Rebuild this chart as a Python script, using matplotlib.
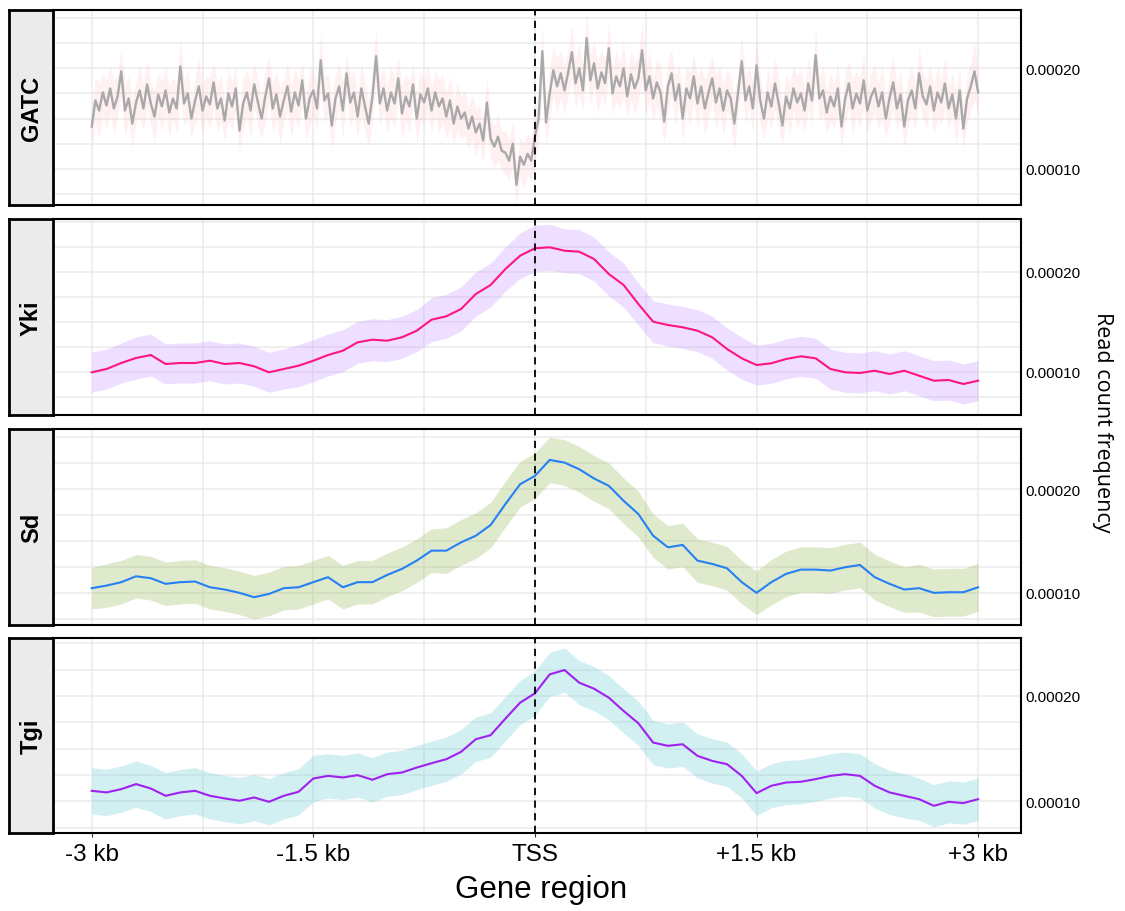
import numpy as np
import matplotlib
matplotlib.use('Agg')
import matplotlib.pyplot as plt
from matplotlib.ticker import FormatStrFormatter

plt.rcParams['font.family'] = ['Liberation Sans', 'DejaVu Sans']

# positions relative to TSS, in kb
x_gatc = np.round(np.arange(-3, 3.0001, 0.025), 3)
x_prot = np.round(np.arange(-3, 3.0001, 0.1), 2)

# read count frequency, in units of 1e-6
gatc_mean = [
    142, 168, 158, 176, 163, 180, 160, 172, 197, 158, 170, 145, 166, 178, 160, 184, 165, 152, 174, 162,
    178, 156, 170, 160, 202, 165, 175, 150, 168, 182, 158, 172, 164, 186, 160, 170, 148, 175, 162, 180,
    138, 165, 176, 158, 184, 166, 150, 172, 190, 160, 174, 152, 168, 182, 157, 176, 163, 188, 150, 170,
    178, 160, 208, 168, 175, 143, 170, 182, 158, 195, 166, 176, 152, 180, 162, 145, 172, 212, 165, 180,
    158, 176, 165, 190, 155, 172, 162, 184, 150, 174, 166, 180, 158, 176, 162, 170, 152, 168, 145, 162,
    150, 156, 140, 152, 136, 145, 128, 166, 130, 122, 132, 118, 116, 108, 125, 84, 112, 104, 115, 108,
    132, 150, 217, 146, 175, 198, 182, 195, 178, 196, 216, 185, 200, 178, 230, 188, 205, 180, 196, 185,
    220, 175, 192, 182, 200, 172, 194, 180, 190, 218, 178, 192, 170, 186, 176, 147, 182, 195, 168, 184,
    150, 180, 170, 192, 165, 182, 160, 176, 190, 166, 180, 158, 178, 170, 145, 176, 207, 168, 182, 160,
    203, 168, 150, 176, 162, 185, 165, 143, 172, 160, 180, 166, 175, 158, 185, 168, 213, 170, 178, 156,
    172, 162, 180, 142, 170, 185, 160, 175, 165, 188, 158, 172, 180, 162, 176, 150, 170, 186, 160, 174,
    142, 168, 178, 160, 195, 172, 164, 182, 158, 176, 166, 185, 160, 174, 150, 178, 140, 170, 182, 197, 176,
]
gatc_sd = [
    24, 22, 27, 20, 25, 23, 28, 21, 24, 26, 22, 25, 20, 27, 23, 24, 21, 26, 22, 25,
    23, 26, 21, 24, 28, 22, 25, 20, 23, 27, 24, 21, 26, 22, 25, 23, 20, 27, 24, 22,
    21, 25, 23, 27, 22, 24, 20, 26, 23, 25, 22, 28, 21, 24, 26, 23, 25, 20, 22, 27,
    25, 22, 28, 23, 21, 26, 24, 22, 27, 20, 25, 23, 21, 26, 24, 22, 25, 28, 23, 21,
    22, 26, 24, 21, 27, 23, 25, 20, 24, 26, 22, 25, 23, 21, 27, 24, 22, 26, 20, 23,
    21, 23, 20, 22, 24, 19, 22, 25, 20, 21, 23, 19, 22, 20, 24, 21, 19, 22, 20, 21,
    23, 25, 27, 22, 26, 24, 28, 23, 25, 22, 27, 24, 26, 21, 28, 25, 23, 26, 22, 24,
    26, 22, 25, 23, 27, 21, 24, 26, 22, 28, 23, 25, 21, 24, 27, 22, 26, 23, 25, 21,
    24, 22, 26, 23, 25, 21, 27, 24, 22, 26, 23, 25, 20, 24, 27, 22, 26, 23, 21, 25,
    27, 23, 21, 25, 22, 26, 24, 20, 23, 25, 22, 27, 24, 21, 26, 23, 28, 22, 25, 21,
    24, 22, 26, 21, 25, 23, 27, 22, 24, 26, 21, 25, 23, 22, 27, 20, 24, 26, 22, 25,
    21, 24, 26, 22, 27, 23, 25, 21, 24, 26, 22, 25, 23, 21, 27, 24, 20, 25, 23, 28, 24,
]

yki_mean = [
    99.7, 103, 109, 114, 117, 108, 109, 109, 111.3, 108,
    109, 105.7, 99.7, 103, 106.3, 111.3, 117, 121.3, 129.7, 132.3,
    131.3, 134.7, 141.3, 152.3, 155.7, 163, 178, 187, 203, 216.3,
    223.7, 224.7, 221.3, 220.3, 213, 198, 187, 168, 150.3, 147,
    144.7, 141.3, 134.7, 123, 113.7, 107, 108.7, 113, 115.7, 113.7,
    103, 99.7, 99, 101.3, 98, 101.3, 96.3, 91.3, 92, 88,
    91.3,
]
yki_sd = [
    20, 20, 20, 21, 21, 20, 20, 20, 20, 20,
    20, 20, 20, 20, 21, 21, 21, 21, 21, 21,
    21, 21, 21, 22, 22, 22, 22, 22, 22, 23,
    23, 23, 22, 22, 22, 22, 22, 21, 21, 21,
    21, 21, 21, 21, 21, 20, 20, 20, 20, 20,
    20, 20, 20, 20, 20, 20, 20, 20, 20, 20,
    20,
]

sd_mean = [
    104.5, 107, 110.3, 116, 114.1, 108.7, 110.3, 110.9, 105.4, 103.2,
    100, 95.8, 99, 104.5, 105.4, 110.3, 115.1, 105.4, 110.3, 110.3,
    117.3, 123.1, 131.1, 140.7, 140.7, 148.7, 155.1, 165.4, 185.6, 204.8,
    212.8, 228.2, 225.6, 219.2, 210.3, 203.2, 188.8, 176, 155.1, 143.9,
    146.2, 131.1, 127.9, 123.7, 110.3, 100, 110.3, 118.3, 122.4, 122.4,
    121.5, 124.7, 126.9, 115.1, 108.7, 103.2, 104.5, 100, 100.6, 100.6,
    105.4,
]
sd_sd = [
    20, 21, 21, 21, 21, 21, 21, 21, 21, 21,
    21, 21, 21, 21, 21, 21, 21, 21, 21, 21,
    21, 21, 21, 21, 22, 22, 22, 22, 22, 22,
    22, 22, 22, 22, 22, 22, 22, 22, 21, 21,
    21, 21, 21, 21, 21, 21, 22, 22, 22, 22,
    22, 22, 22, 22, 22, 22, 23, 23, 23, 23,
    23,
]

tgi_mean = [
    110, 108.5, 111.6, 116.4, 112.2, 105.3, 108.5, 110, 105.3, 102.8,
    100.6, 103.7, 99.6, 105.3, 109.1, 121.7, 124.2, 122.7, 124.9, 120.5,
    125.8, 127.4, 132.1, 136.2, 140, 147, 159, 162.8, 178.5, 193.7,
    202.5, 220.5, 224.6, 212.6, 206.9, 198.4, 185.8, 174.1, 155.8, 152.7,
    154.2, 143.2, 138.4, 135.3, 124.2, 107.8, 114.8, 117.9, 118.6, 121.1,
    124.2, 125.8, 124.2, 114.8, 108.5, 105.3, 102.1, 95.8, 99.6, 98.4,
    102.1,
]
tgi_sd = [
    22, 22, 22, 22, 22, 22, 22, 22, 22, 22,
    22, 22, 22, 22, 22, 22, 21, 21, 21, 21,
    21, 21, 21, 21, 21, 21, 21, 21, 21, 21,
    21, 21, 21, 21, 21, 21, 21, 21, 21, 21,
    21, 21, 21, 21, 21, 21, 21, 21, 21, 21,
    21, 21, 21, 21, 21, 21, 20, 20, 20, 20,
    20,
]

facets = ['GATC', 'Yki', 'Sd', 'Tgi']
line_colors = ['#A9A9A9', '#FF1483', '#2680F5', '#A020F0']
ribbon_colors = ['#FFB6C1', '#CC99FF', '#9DBF63', '#7FD4DA']
ribbon_alpha = [0.2, 0.32, 0.32, 0.35]
ylims = [(64, 258), (57, 253), (69, 258), (70, 255)]

x_breaks = [-3, -1.5, 0, 1.5, 3]
x_labels = ['-3 kb', '-1.5 kb', 'TSS', '+1.5 kb', '+3 kb']

series = [
    (x_gatc, gatc_mean, gatc_sd),
    (x_prot, yki_mean, yki_sd),
    (x_prot, sd_mean, sd_sd),
    (x_prot, tgi_mean, tgi_sd),
]

# panel edges in pixels (top, bottom) of a 1125 x 912 canvas
panel_rows = [(11, 206), (220, 416), (430, 626), (639, 834)]
W, H = 1125, 912
left_px, right_px = 53.3, 1021
strip_left = 9.3

fig = plt.figure(figsize=(W / 100, H / 100), dpi=100)

for i, name in enumerate(facets):
    top, bot = panel_rows[i]
    rect = [left_px / W, 1 - bot / H, (right_px - left_px) / W, (bot - top) / H]
    ax = fig.add_axes(rect)
    x, m, s = series[i]
    m = np.array(m) * 1e-6
    s = np.array(s) * 1e-6
    ax.fill_between(x, m - s, m + s, color=ribbon_colors[i], alpha=ribbon_alpha[i],
                    linewidth=0, zorder=2)
    ax.plot(x, m, color=line_colors[i], lw=1.7 if i == 0 else 1.5, zorder=3)
    ax.axvline(0, color='black', ls=(0, (4, 3)), lw=1.3, zorder=4)

    ax.set_xlim(-3.26, 3.29)
    lo, hi = ylims[i]
    ax.set_ylim(lo * 1e-6, hi * 1e-6)

    # grid
    for gx in np.arange(-3, 3.01, 0.75):
        ax.axvline(gx, color='#EBEBEB', lw=1.1, zorder=0)
    for gy in range(75, 260, 25):
        ax.axhline(gy * 1e-6, color='#EBEBEB', lw=1.1, zorder=0)

    ax.yaxis.tick_right()
    ax.set_yticks([1e-4, 2e-4])
    ax.yaxis.set_major_formatter(FormatStrFormatter('%.5f'))
    ax.tick_params(axis='y', length=0, pad=3, labelsize=11)
    ax.set_xticks(x_breaks)
    if i == len(facets) - 1:
        ax.set_xticklabels(x_labels)
        ax.tick_params(axis='x', length=3, pad=4, labelsize=17.5, color='#333333')
    else:
        ax.tick_params(axis='x', length=0, labelbottom=False)
    for sp in ax.spines.values():
        sp.set_linewidth(1.5)
        sp.set_color('black')
        sp.set_zorder(5)

    # facet strip on the left
    sax = fig.add_axes([strip_left / W, 1 - bot / H, (left_px - strip_left) / W, (bot - top) / H])
    sax.set_facecolor('#EBEBEB')
    sax.set_xticks([])
    sax.set_yticks([])
    for sp in sax.spines.values():
        sp.set_linewidth(2)
        sp.set_color('black')
    sax.text(0.5, 0.5, name, rotation=90, ha='center', va='center',
             fontsize=17, fontweight='bold', transform=sax.transAxes)

fig.text(541 / W, 1 - 890 / H, 'Gene region', ha='center', va='center', fontsize=22.5)
fig.text(1103 / W, 1 - 422 / H, 'Read count frequency', rotation=270, ha='center', va='center',
         fontsize=15.5, family=['Open Sans', 'DejaVu Sans'])

fig.savefig('out.png', dpi=100)
